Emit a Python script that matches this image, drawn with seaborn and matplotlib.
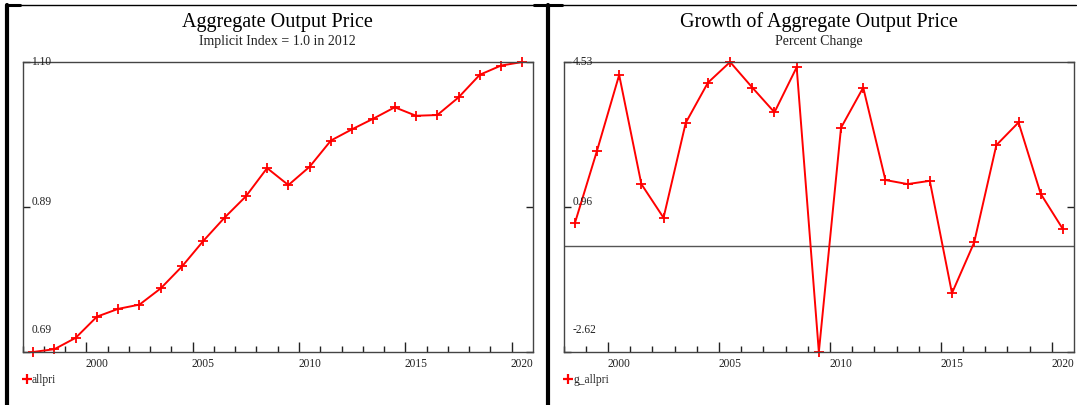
import numpy as np
import pandas as pd
import matplotlib
matplotlib.use("Agg")
import matplotlib.pyplot as plt
from matplotlib.lines import Line2D
import seaborn as sns

# values
years = list(range(1997, 2021))
allpri = [0.690, 0.694, 0.710, 0.740, 0.751, 0.757, 0.780, 0.811, 0.847, 0.880,
          0.910, 0.950, 0.926, 0.952, 0.989, 1.005, 1.020, 1.036, 1.024, 1.025,
          1.050, 1.082, 1.095, 1.100]

g_years = list(range(1998, 2021))
g_allpri = [0.55, 2.34, 4.21, 1.52, 0.69, 3.03, 4.02, 4.53, 3.90, 3.29,
            4.40, -2.62, 2.91, 3.90, 1.62, 1.52, 1.60, -1.17, 0.08, 2.48,
            3.04, 1.28, 0.41]

left_ticklabels = ["0.69", "0.89", "1.10"]
right_ticklabels = ["-2.62", "0.96", "4.53"]
xlabel_years = [2000, 2005, 2010, 2015, 2020]

titles = ["Aggregate Output Price", "Growth of Aggregate Output Price"]
subtitles = ["Implicit Index = 1.0 in 2012", "Percent Change"]
series_names = ["allpri", "g_allpri"]

sns.set_style("white")
plt.rcParams["font.family"] = ["Liberation Serif", "DejaVu Serif"]

fig = plt.figure(figsize=(10.77, 4.05), dpi=100)
W, H = 1077.0, 405.0


def px_axes(x0, x1, y0, y1):
    return fig.add_axes([x0 / W, 1 - y1 / H, (x1 - x0) / W, (y1 - y0) / H])


ax_l = px_axes(22.5, 533, 62, 352)
ax_r = px_axes(563.7, 1074, 62, 352)

frames = [
    (ax_l, years, allpri, left_ticklabels, 1997, titles[0], subtitles[0], series_names[0]),
    (ax_r, g_years, g_allpri, right_ticklabels, 1998, titles[1], subtitles[1], series_names[1]),
]

for ax, yrs, vals, tlabels, x_start, title, subtitle, name in frames:
    df = pd.DataFrame({"x": np.array(yrs) + 0.5, "v": vals})
    sns.lineplot(data=df, x="x", y="v", ax=ax, color="red", linewidth=1.4,
                 marker="+", markersize=7, markeredgewidth=1.3,
                 markeredgecolor="red", clip_on=False)
    lo, hi = min(vals), max(vals)
    ax.set_ylim(lo, hi)
    ax.set_xlim(x_start, 2021)
    ax.set_xlabel("")
    ax.set_ylabel("")

    for sp in ax.spines.values():
        sp.set_color("#444444")
        sp.set_linewidth(1.0)

    # y ticks: min, mid, max, drawn inward on both sides
    yt = [lo, (lo + hi) / 2, hi]
    ax.set_yticks(yt)
    ax.tick_params(axis="y", left=True, right=True, direction="in", length=5,
                   width=1, color="#222222", labelleft=False)
    offsets = [16, 3.5, 0]
    for v, lab, dy in zip(yt, tlabels, offsets):
        ax.annotate(lab, xy=(0, v), xycoords=("axes fraction", "data"),
                    xytext=(6.5, dy), textcoords="offset points",
                    ha="left", va="center", fontsize=8.3, color="#222222")

    # x ticks: every year minor, every five years major, label centred in year
    ax.set_xticks(xlabel_years)
    ax.set_xticks(range(x_start, 2021), minor=True)
    ax.tick_params(axis="x", which="major", bottom=True, direction="in",
                   length=7.5, width=1, color="#222222", labelbottom=False)
    ax.tick_params(axis="x", which="minor", bottom=True, direction="in",
                   length=4.2, width=1, color="#222222")
    for yr in xlabel_years:
        ax.annotate(str(yr), xy=(yr + 0.5, 0), xycoords=("data", "axes fraction"),
                    xytext=(0, -4), textcoords="offset points",
                    ha="center", va="top", fontsize=8.3, color="#222222")

    ax.set_title("")
    ax.text(0.5, 1 + 40 / 290, title, transform=ax.transAxes, ha="center",
            va="center", fontsize=14.5, color="black")
    ax.text(0.5, 1 + 20 / 290, subtitle, transform=ax.transAxes, ha="center",
            va="center", fontsize=10, color="#222222")

    handle = Line2D([], [], color="red", marker="+", linestyle="none",
                    markersize=7, markeredgewidth=1.6)
    ax.legend([handle], [name], loc="center left", frameon=False,
              bbox_to_anchor=(-0.01, -0.097), handlelength=0.6,
              handletextpad=0.15, borderpad=0, fontsize=8.3)

ax_r.axhline(0, color="#555555", linewidth=1.0, zorder=1)

# outer frame lines of the graph page
frame_lines = [
    ((6, 1076), (5, 5), 1.0),
    ((6, 20), (5, 5), 2.2),
    ((534, 562), (5, 5), 2.2),
    ((7, 7), (5, 405), 3.0),
    ((548, 548), (5, 405), 3.0),
]
for xs, ys, lw in frame_lines:
    fig.add_artist(Line2D([x / W for x in xs], [1 - y / H for y in ys],
                          transform=fig.transFigure, color="black", linewidth=lw))

fig.savefig("out.png", dpi=100)
